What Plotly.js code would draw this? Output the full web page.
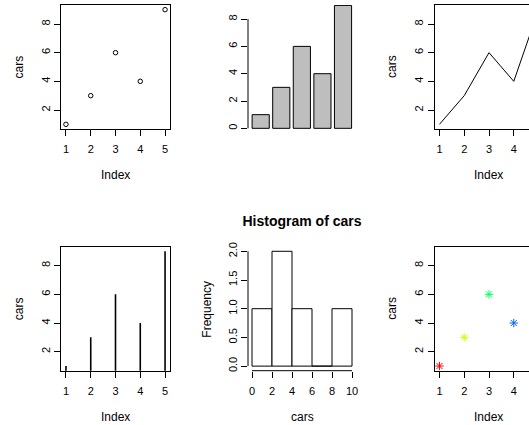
<!DOCTYPE html>
<html>
<head>
<meta charset="utf-8">
<script src="https://cdn.plot.ly/plotly-3.0.1.min.js"></script>
<style>html,body{margin:0;padding:0;background:#fff;}#plot{width:529px;height:425px;}</style>
</head>
<body>
<div id="plot"></div>
<script>
// ---- data ----
const idx = [1, 2, 3, 4, 5];
const cars = [1, 3, 6, 4, 9];
const pointColors = ["#FF0000", "#CCFF00", "#00FF66", "#0066FF", "#CC00FF"];
const histBreaks = [0, 2, 4, 6, 8, 10];
const histCounts = [1, 2, 1, 0, 1];
const yTicksCars = [2, 4, 6, 8];
const yTicksBar = [0, 2, 4, 6, 8];
const yTicksFreq = [0, 0.5, 1, 1.5, 2];
const histTitle = "Histogram of cars";

// ---- geometry helpers ----
const W = 529, H = 425;
const fx = p => p / W;
const fy = p => 1 - p / H;
const colX = [[61, 170], [248, 356], [434.5, 529]];
const rowY = [[5, 129], [246.7, 370.7]];
const domX = c => [fx(colX[c][0]), Math.min(1, fx(colX[c][1]))];
const domY = r => [fy(rowY[r][1]), fy(rowY[r][0])];

const histMids = histCounts.map((_, i) => (histBreaks[i] + histBreaks[i + 1]) / 2);
const histWidths = histCounts.map((_, i) => histBreaks[i + 1] - histBreaks[i]);
// vertical "h"-type segments from 0 up to each value
const hX = idx.flatMap(v => [v, v, null]);
const hY = cars.flatMap(v => [0, v, null]);

const FONT = "Liberation Sans, Arial, Helvetica, sans-serif";
const tickFont = {family: FONT, size: 11, color: "#000"};
const labFont = {family: FONT, size: 12, color: "#000"};

const traces = [
  // 1: points
  {type: "scatter", mode: "markers", x: idx, y: cars, xaxis: "x", yaxis: "y",
   marker: {symbol: "circle-open", size: 4.5, color: "#000", line: {width: 1, color: "#000"}}},
  // 2: barplot
  {type: "bar", x: idx, y: cars, xaxis: "x2", yaxis: "y2", width: 1 / 1.2,
   marker: {color: "#BEBEBE", line: {color: "#000", width: 1}}},
  // 3: line
  {type: "scatter", mode: "lines", x: idx, y: cars, xaxis: "x3", yaxis: "y3",
   line: {color: "#000", width: 1}},
  // 4: type h
  {type: "scatter", mode: "lines", x: hX, y: hY, xaxis: "x4", yaxis: "y4", connectgaps: false,
   line: {color: "#000", width: 1.6}},
  // 5: histogram
  {type: "bar", x: histMids, y: histCounts, width: histWidths, xaxis: "x5", yaxis: "y5",
   marker: {color: "#FFFFFF", line: {color: "#000", width: 1}}},
  // 6: coloured stars
  {type: "scatter", mode: "markers", x: idx, y: cars, xaxis: "x6", yaxis: "y6",
   marker: {symbol: "asterisk-open", size: 7, color: pointColors, line: {width: 1, color: pointColors}}}
];

function xa(col, row, range, opts) {
  return Object.assign({
    domain: domX(col), range: range, anchor: "y" + (row * 3 + col + 1 === 1 ? "" : row * 3 + col + 1),
    tickmode: "array", tickvals: idx, ticks: "outside", ticklen: 6, tickwidth: 1, tickcolor: "#000",
    showline: true, mirror: true, linecolor: "#000", linewidth: 1,
    showgrid: false, zeroline: false, tickfont: tickFont, ticklabelstandoff: 4, fixedrange: true
  }, opts || {});
}
function ya(col, row, range, opts) {
  return Object.assign({
    domain: domY(row), range: range, anchor: "x" + (row * 3 + col + 1 === 1 ? "" : row * 3 + col + 1),
    tickmode: "array", tickvals: yTicksCars, ticks: "outside", ticklen: 6, tickwidth: 1, tickcolor: "#000",
    tickangle: -90,
    showline: true, mirror: true, linecolor: "#000", linewidth: 1,
    showgrid: false, zeroline: false, tickfont: tickFont, ticklabelstandoff: 0, fixedrange: true
  }, opts || {});
}

const yr = [0.674, 9.326];
const layout = {
  width: W, height: H,
  margin: {l: 0, r: 0, t: 0, b: 0},
  paper_bgcolor: "#fff", plot_bgcolor: "#fff",
  showlegend: false,
  bargap: 0,
  title: {text: "<b>" + histTitle + "</b>", font: {family: FONT, size: 14, color: "#000"},
          x: 302 / W, xanchor: "center", xref: "paper", y: fy(221), yanchor: "middle", yref: "paper"},
  xaxis: xa(0, 0, [0.8, 5.2]),
  yaxis: ya(0, 0, yr),
  xaxis2: xa(1, 0, [0.383, 5.631], {showline: false, ticks: "", showticklabels: false}),
  yaxis2: ya(1, 0, [-0.05, 9.03], {showline: false, tickvals: yTicksBar}),
  xaxis3: xa(2, 0, [0.8, 4.615]),
  yaxis3: ya(2, 0, yr, {mirror: false}),
  xaxis4: xa(0, 1, [0.8, 5.2]),
  yaxis4: ya(0, 1, yr),
  xaxis5: xa(1, 1, [-0.4, 10.4], {showline: false, tickvals: histBreaks}),
  yaxis5: ya(1, 1, [-0.08, 2.08], {showline: false, tickvals: yTicksFreq, tickformat: ".1f"}),
  xaxis6: xa(2, 1, [0.8, 4.615]),
  yaxis6: ya(2, 1, yr, {mirror: false}),
  shapes: [
    {type: "line", xref: "x2 domain", yref: "y2", x0: 0, x1: 0,
     y0: yTicksBar[0], y1: yTicksBar[yTicksBar.length - 1], line: {color: "#000", width: 1}},
    {type: "line", xref: "x5 domain", yref: "y5", x0: 0, x1: 0,
     y0: yTicksFreq[0], y1: yTicksFreq[yTicksFreq.length - 1], line: {color: "#000", width: 1}},
    {type: "line", xref: "x5", yref: "y5 domain", y0: 0, y1: 0,
     x0: histBreaks[0], x1: histBreaks[histBreaks.length - 1], line: {color: "#000", width: 1}}
  ],
  annotations: []
};

function ann(text, px, py, angle) {
  layout.annotations.push({text: text, x: fx(px), y: fy(py), xref: "paper", yref: "paper",
    xanchor: "center", yanchor: "middle", showarrow: false, textangle: angle || 0, font: labFont});
}
// x titles
ann("Index", 115.5, 175); ann("Index", 488, 175);
ann("Index", 115.5, 417); ann("cars", 302, 417); ann("Index", 488, 417);
// y titles
ann("cars", 18.5, 67, -90); ann("cars", 392, 67, -90);
ann("cars", 18.5, 308.7, -90); ann("Frequency", 206.7, 309, -90); ann("cars", 392, 308.7, -90);

Plotly.newPlot("plot", traces, layout, {displayModeBar: false, staticPlot: true});
</script>
</body>
</html>
